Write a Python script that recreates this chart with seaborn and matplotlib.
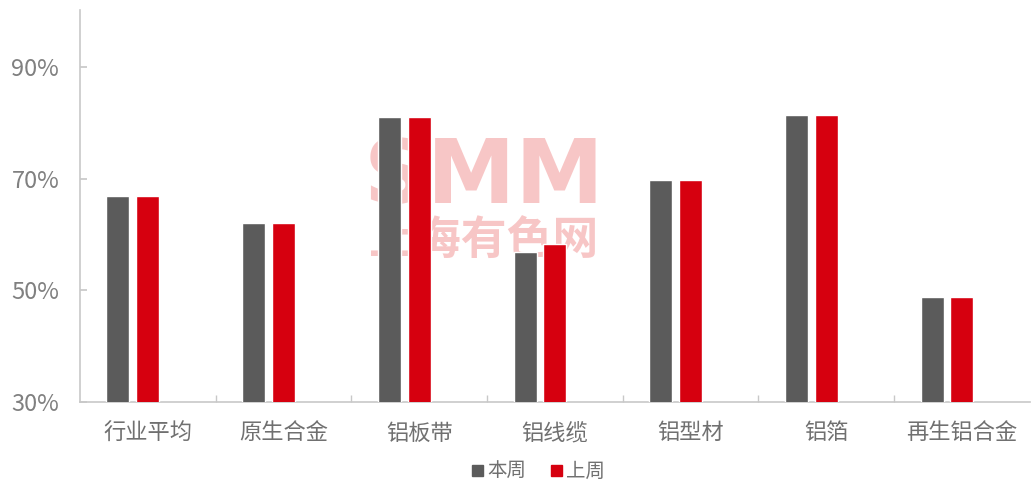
import matplotlib
matplotlib.use("Agg")
import matplotlib.pyplot as plt
import seaborn as sns
import pandas as pd
import numpy as np
from matplotlib.patches import Patch
from matplotlib.ticker import FixedLocator

categories = ["行业平均", "原生合金", "铝板带", "铝线缆", "铝型材", "铝箔", "再生铝合金"]
this_week = [66.9, 62.1, 81.1, 56.9, 69.8, 81.4, 48.8]
last_week = [66.9, 62.1, 81.1, 58.2, 69.8, 81.4, 48.8]
series_names = ["本周", "上周"]
yticks = [30, 50, 70, 90]

sns.set_theme(style="white")
plt.rcParams['font.family'] = ['Noto Sans CJK SC', 'DejaVu Sans']

df = pd.DataFrame({
    "cat": categories * 2,
    "val": this_week + last_week,
    "series": [series_names[0]] * len(categories) + [series_names[1]] * len(categories),
})

gray = "#5B5B5B"
red = "#D6000F"
blank = " "  # empty third slot, as in the original chart

fig = plt.figure(figsize=(10.36, 4.9), dpi=100)
ax = fig.add_axes([0.0772, 0.1796, 0.9168, 0.8004])

sns.barplot(data=df, x="cat", y="val", hue="series",
            hue_order=series_names + [blank],
            palette={series_names[0]: gray, series_names[1]: red, blank: "white"},
            width=0.66, gap=0.23, saturation=1, legend=False, ax=ax,
            order=categories, errorbar=None, zorder=3)

# watermark (behind bars)
ax.text(0.425, 0.57, "SMM", transform=ax.transAxes, color="#F6B8B8", alpha=0.8,
        fontsize=64, fontweight="heavy", ha="center", va="center",
        family=["DejaVu Sans"], zorder=1)
ax.text(0.425, 0.41, "上海有色网", transform=ax.transAxes, color="#F6B8B8", alpha=0.8,
        fontsize=33, fontweight="bold", ha="center", va="center", zorder=1)

ax.set_ylim(30, 100.2)
ax.set_xlim(-0.5, 6.5)
ax.set_yticks(yticks)
ax.set_yticklabels([f"{v}%" for v in yticks])
ax.set_xlabel("")
ax.set_ylabel("")

for s in ["top", "right"]:
    ax.spines[s].set_visible(False)
for s in ["left", "bottom"]:
    ax.spines[s].set_color("#C8C8C8")
    ax.spines[s].set_linewidth(1.2)

ax.tick_params(axis="y", direction="in", length=5, color="#C8C8C8", labelsize=17,
               labelcolor="#808080", pad=15, left=True)
ax.tick_params(axis="x", which="major", length=0, labelsize=16, labelcolor="#707070", pad=14)
ax.xaxis.set_minor_locator(FixedLocator(np.arange(0.5, 6.5, 1.0)))
ax.tick_params(axis="x", which="minor", direction="in", length=5, color="#C8C8C8", bottom=True)

handles = [Patch(color=gray, label=series_names[0]), Patch(color=red, label=series_names[1])]
fig.legend(handles=handles, loc="lower center", bbox_to_anchor=(0.52, -0.02), ncol=2,
           frameon=False, fontsize=14, handlelength=0.55, handleheight=0.55,
           handletextpad=0.2, columnspacing=1.3, labelcolor="#707070")

fig.savefig("out.png", dpi=100, facecolor="white")
